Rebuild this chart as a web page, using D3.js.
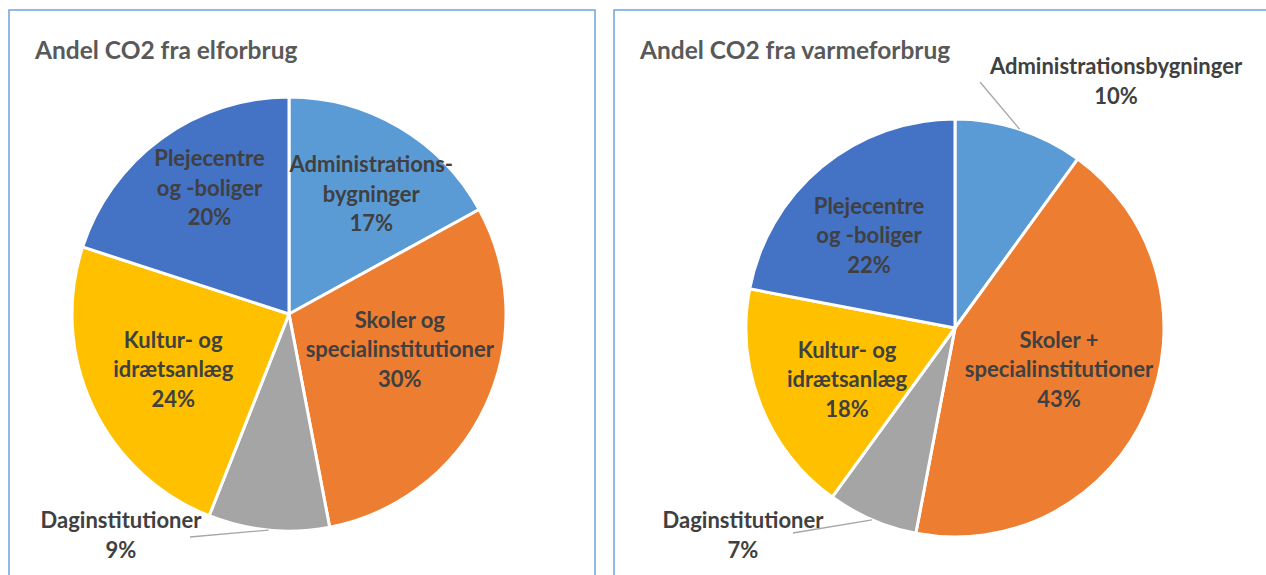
<!DOCTYPE html>
<html>
<head>
<meta charset="utf-8">
<script src="https://cdn.jsdelivr.net/npm/d3@7"></script>
<style>
  body { margin: 0; background: #fff; }
  svg { display: block; font-family: Lato, "Open Sans", sans-serif; }
</style>
</head>
<body>
<svg id="chart" width="1266" height="575"></svg>
<script>
// data
const elCategories = ["Administrations-\nbygninger", "Skoler og\nspecialinstitutioner", "Daginstitutioner", "Kultur- og\nidrætsanlæg", "Plejecentre\nog -boliger"];
const elValues = [17, 30, 9, 24, 20];

const varmeCategories = ["Administrationsbygninger", "Skoler +\nspecialinstitutioner", "Daginstitutioner", "Kultur- og\nidrætsanlæg", "Plejecentre\nog -boliger"];
const varmeValues = [10, 43, 7, 18, 22];

const sliceColors = ["#5B9BD5", "#ED7D31", "#A5A5A5", "#FFC000", "#4472C4"];

// layout per chart: label offsets from arc centroid (inside) or from pie centre (outside)
const panels = [
  {
    title: "Andel CO2 fra elforbrug", cats: elCategories, vals: elValues,
    box: [9, 10, 586, 600], cx: 289, cy: 314, r: 217,
    nudge: [[16, -8], [-7, -20], [-168, 221], [2, 0], [-3, -21]],
    outside: [false, false, true, false, false],
    leaderEnd: [null, null, [190, 537], null, null]
  },
  {
    title: "Andel CO2 fra varmeforbrug", cats: varmeCategories, vals: varmeValues,
    box: [614, 10, 700, 600], cx: 955, cy: 328, r: 209,
    nudge: [[161, -247], [0, 0], [-212, 207], [0, 0], [0, 0]],
    outside: [true, false, true, false, false],
    leaderEnd: [[980, 82], null, [793, 533], null, null]
  }
];

const svg = d3.select("#chart");
const pie = d3.pie().sort(null).value(d => d);
const lineH = 29.5;

panels.forEach((p, pi) => {
  const g = svg.append("g");

  g.append("rect")
    .attr("x", p.box[0]).attr("y", p.box[1])
    .attr("width", p.box[2]).attr("height", p.box[3])
    .attr("fill", "#fff")
    .attr("stroke", "#6FA3DC")
    .attr("stroke-width", 1.5);

  g.append("text")
    .attr("x", p.box[0] + 26).attr("y", 59)
    .attr("fill", "#595959")
    .attr("font-size", 24.5)
    .attr("font-weight", 700)
    .text(p.title);

  const arc = d3.arc().innerRadius(0).outerRadius(p.r);
  const labelArc = d3.arc().innerRadius(p.r * 0.6).outerRadius(p.r * 0.6);
  const arcs = pie(p.vals);
  const pg = g.append("g").attr("transform", `translate(${p.cx},${p.cy})`);

  pg.selectAll("path")
    .data(arcs)
    .join("path")
    .attr("d", arc)
    .attr("fill", (d, i) => sliceColors[i])
    .attr("stroke", "#fff")
    .attr("stroke-width", 3)
    .attr("stroke-linejoin", "round");

  // the right chart's inside labels sit a bit differently from Excel's centroid
  const rightInside = [null, [104, 41], null, [-108, 51], [-86, -93]];

  arcs.forEach((d, i) => {
    let pos;
    if (p.outside[i]) {
      pos = p.nudge[i];
      const mid = (d.startAngle + d.endAngle) / 2;
      const sx = Math.sin(mid) * p.r, sy = -Math.cos(mid) * p.r;
      const e = p.leaderEnd[i];
      pg.append("line")
        .attr("x1", sx).attr("y1", sy)
        .attr("x2", e[0] - p.cx).attr("y2", e[1] - p.cy)
        .attr("stroke", "#A6A6A6")
        .attr("stroke-width", 1.3);
    } else if (pi === 1) {
      pos = rightInside[i];
    } else {
      const c = labelArc.centroid(d);
      pos = [c[0] + p.nudge[i][0], c[1] + p.nudge[i][1]];
    }
    const lines = p.cats[i].split("\n").concat([d.data + "%"]);
    const t = pg.append("text")
      .attr("text-anchor", "middle")
      .attr("fill", "#404040")
      .attr("font-size", 22)
      .attr("font-weight", 700);
    const y0 = pos[1] - (lines.length - 1) * lineH / 2;
    lines.forEach((s, k) => {
      t.append("tspan")
        .attr("x", pos[0])
        .attr("y", y0 + k * lineH + 8)
        .text(s);
    });
  });
});
</script>
</body>
</html>
